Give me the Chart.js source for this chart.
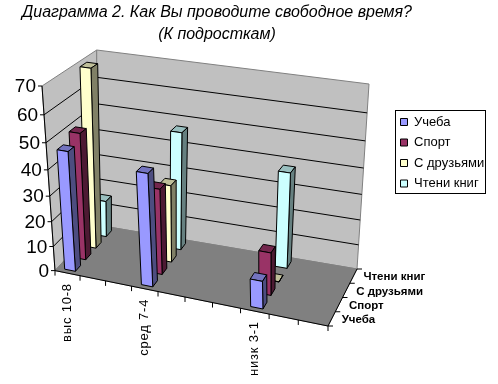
<!DOCTYPE html>
<html>
<head>
<meta charset="utf-8">
<title>Диаграмма 2</title>
<style>
  html, body { margin: 0; padding: 0; background: #fff; }
  #box { width: 498px; height: 384px; }
</style>
<script src="https://cdn.jsdelivr.net/npm/chart.js@4"></script>
</head>
<body>
<div id="box"><canvas id="chart" width="498" height="384"></canvas></div>
<script>
// Excel style 3D column chart, Chart.js keeps the scales and legend,
// the plugin below projects the scale positions onto the 3D box.
const categories = ['выс 10-8', '', '', 'сред 7-4', '', '', '', 'низк 3-1', '', ''];
const seriesNames = ['Учеба', 'Спорт', 'С друзьями', 'Чтени книг'];
const ucheba  = [47, null, null, 44, null, null, null, 11, null, null];
const sport   = [50, null, null, 34, null, null, null, 17, null, null];
const druzya  = [70, null, null, 31, null, null, null, 0, null, null];
const knigi   = [15, null, null, 47, null, null, null, 38, null, null];
const seriesValues = [ucheba, sport, druzya, knigi];
const seriesColors = ['#9999ff', '#993366', '#ffffcc', '#ccffff'];
const titleLines = ['Диаграмма 2. Как Вы проводите свободное время?', '(К подросткам)'];

// screen corners of the box: f/b = front/back, l/r = left/right, 0/1 = floor/top
const corners = {
  fl0: [55, 270.6], fr0: [328, 326], bl0: [97, 225], br0: [357, 269],
  fl1: [42, 86], fr1: [327, 131], bl1: [96.7, 50], br1: [369, 84]
};
const barShare = 0.43;
const depthShare = 0.5;

function warp(t, a) { return t / (a + (1 - a) * t); }
function mix(p, q, t) { return [p[0] + (q[0] - p[0]) * t, p[1] + (q[1] - p[1]) * t]; }

// u along categories, v along values, w into the depth, all 0..1
function project(u, v, w) {
  const uu = warp(u, 1.1), vv = warp(v, 1.11);
  const f0 = mix(corners.fl0, corners.fr0, uu), b0 = mix(corners.bl0, corners.br0, uu);
  const f1 = mix(corners.fl1, corners.fr1, uu), b1 = mix(corners.bl1, corners.br1, uu);
  return mix(mix(f0, b0, w), mix(f1, b1, w), vv);
}

function poly(ctx, pts, fill, stroke) {
  ctx.beginPath();
  pts.forEach((p, i) => i ? ctx.lineTo(p[0], p[1]) : ctx.moveTo(p[0], p[1]));
  ctx.closePath();
  if (fill) { ctx.fillStyle = fill; ctx.fill(); }
  if (stroke) { ctx.strokeStyle = stroke; ctx.lineWidth = 1; ctx.stroke(); }
}

function line(ctx, p, q, color) {
  ctx.strokeStyle = color;
  ctx.lineWidth = 1;
  ctx.beginPath();
  ctx.moveTo(p[0], p[1]);
  ctx.lineTo(q[0], q[1]);
  ctx.stroke();
}

function shade(hex, k) {
  const n = parseInt(hex.slice(1), 16);
  const c = [n >> 16, (n >> 8) & 255, n & 255].map(x => Math.round(x * k));
  return 'rgb(' + c.join(',') + ')';
}

const box3d = {
  id: 'box3d',
  afterLayout(chart) {
    // legend goes in its frame at the right of the box, title is centred over the box
    const lg = chart.legend;
    lg.left = 393; lg.right = 490; lg.top = 108; lg.bottom = 300;
    const tb = chart.titleBlock;
    tb.left = 0; tb.right = 434;
  },
  beforeDatasetsDraw(chart) {
    const ctx = chart.ctx, a = chart.chartArea;
    const sx = chart.scales.x, sy = chart.scales.y, sz = chart.scales.z;
    const U = i => (sx.getPixelForValue(i) - a.left) / a.width;
    const V = val => (a.bottom - sy.getPixelForValue(val)) / a.height;
    const W = i => (sz.getPixelForValue(i) - a.top) / a.height;
    const du = barShare / categories.length / 2, dw = depthShare / seriesNames.length / 2;

    ctx.save();
    // walls and floor
    poly(ctx, [project(0, 0, 0), project(0, 0, 1), project(0, 1, 1), project(0, 1, 0)], '#c0c0c0', '#808080');
    poly(ctx, [project(0, 0, 1), project(1, 0, 1), project(1, 1, 1), project(0, 1, 1)], '#c0c0c0', '#808080');
    poly(ctx, [project(0, 0, 0), project(1, 0, 0), project(1, 0, 1), project(0, 0, 1)], '#808080', '#808080');

    // value gridlines, ticks and labels
    ctx.font = '19px "Liberation Sans", Arial, sans-serif';
    ctx.textAlign = 'right';
    ctx.textBaseline = 'middle';
    sy.ticks.forEach(t => {
      const v = V(t.value);
      if (v > 0 && v < 1) {
        line(ctx, project(0, v, 0), project(0, v, 1), '#000');
        line(ctx, project(0, v, 1), project(1, v, 1), '#000');
      }
      const p = project(0, v, 0);
      line(ctx, [p[0] - 4, p[1]], p, '#000');
      ctx.fillStyle = '#000';
      ctx.fillText(t.label, p[0] - 6, p[1] + 1);
    });
    line(ctx, project(0, 0, 0), project(0, 1, 0), '#000');

    // category axis, one tick per category edge
    line(ctx, project(0, 0, 0), project(1, 0, 0), '#000');
    for (let i = 0; i <= categories.length; i++) {
      const p = project(i / categories.length, 0, 0);
      line(ctx, p, [p[0], p[1] + 5], '#000');
    }
    ctx.font = '13px "Liberation Sans", Arial, sans-serif';
    ctx.letterSpacing = '0.8px';
    ctx.textBaseline = 'middle';
    categories.forEach((name, i) => {
      if (!name) return;
      const p = project(U(i), 0, 0);
      ctx.save();
      ctx.translate(p[0], p[1] + 10);
      ctx.rotate(-Math.PI / 2);
      ctx.textAlign = 'right';
      ctx.fillText(name, 0, 0);
      ctx.restore();
    });
    ctx.letterSpacing = '0px';

    // series axis on the right side of the floor
    line(ctx, project(1, 0, 0), project(1, 0, 1), '#000');
    for (let i = 0; i <= seriesNames.length; i++) {
      const p = project(1, 0, i / seriesNames.length);
      line(ctx, p, [p[0] + 5, p[1]], '#000');
    }
    ctx.font = 'bold 11.5px "Liberation Sans", Arial, sans-serif';
    ctx.textAlign = 'left';
    seriesNames.forEach((name, i) => {
      const p = project(1, 0, W(i));
      ctx.fillText(name, p[0] + 10, p[1] + 1);
    });

    // bars, back row first so the front rows cover them
    for (let s = seriesNames.length - 1; s >= 0; s--) {
      seriesValues[s].forEach((val, i) => {
        if (val === null) return;
        const u = U(i), w = W(s), v = V(val), v0 = V(0);
        const a0 = project(u - du, v0, w - dw), b0 = project(u + du, v0, w - dw), c0 = project(u + du, v0, w + dw);
        const a1 = project(u - du, v, w - dw), b1 = project(u + du, v, w - dw);
        const c1 = project(u + du, v, w + dw), d1 = project(u - du, v, w + dw);
        const col = seriesColors[s];
        poly(ctx, [a1, b1, c1, d1], shade(col, 0.75), '#000');
        poly(ctx, [b0, c0, c1, b1], shade(col, 0.5), '#000');
        poly(ctx, [a0, b0, b1, a1], col, '#000');
      });
    }

    // legend frame
    ctx.strokeStyle = '#000';
    ctx.lineWidth = 1;
    ctx.strokeRect(395.5, 110.5, 90, 83);
    ctx.restore();
    return false; // the projected bars replace the flat ones
  }
};

new Chart(document.getElementById('chart'), {
  type: 'bar',
  data: {
    labels: categories,
    datasets: seriesNames.map((name, s) => ({
      label: name,
      data: seriesValues[s],
      backgroundColor: seriesColors[s],
      borderColor: '#000',
      borderWidth: 1
    }))
  },
  plugins: [box3d],
  options: {
    responsive: false,
    animation: false,
    events: [],
    scales: {
      x: { display: false, offset: true, ticks: { autoSkip: false } },
      y: { display: false, min: 0, max: 70, ticks: { stepSize: 10 } },
      z: { display: false, type: 'category', axis: 'y', offset: true, labels: seriesNames }
    },
    plugins: {
      tooltip: { enabled: false },
      title: {
        display: true,
        fullSize: false,
        text: titleLines,
        color: '#000',
        padding: { top: 2, bottom: 4 },
        font: { family: '"Liberation Sans", Arial, sans-serif', size: 16, style: 'italic', weight: 'normal', lineHeight: 1.35 }
      },
      legend: {
        position: 'right',
        align: 'start',
        labels: {
          color: '#000',
          boxWidth: 7,
          boxHeight: 7,
          padding: 7.5,
          font: { family: '"Liberation Sans", Arial, sans-serif', size: 13 }
        }
      }
    }
  }
});
</script>
</body>
</html>
